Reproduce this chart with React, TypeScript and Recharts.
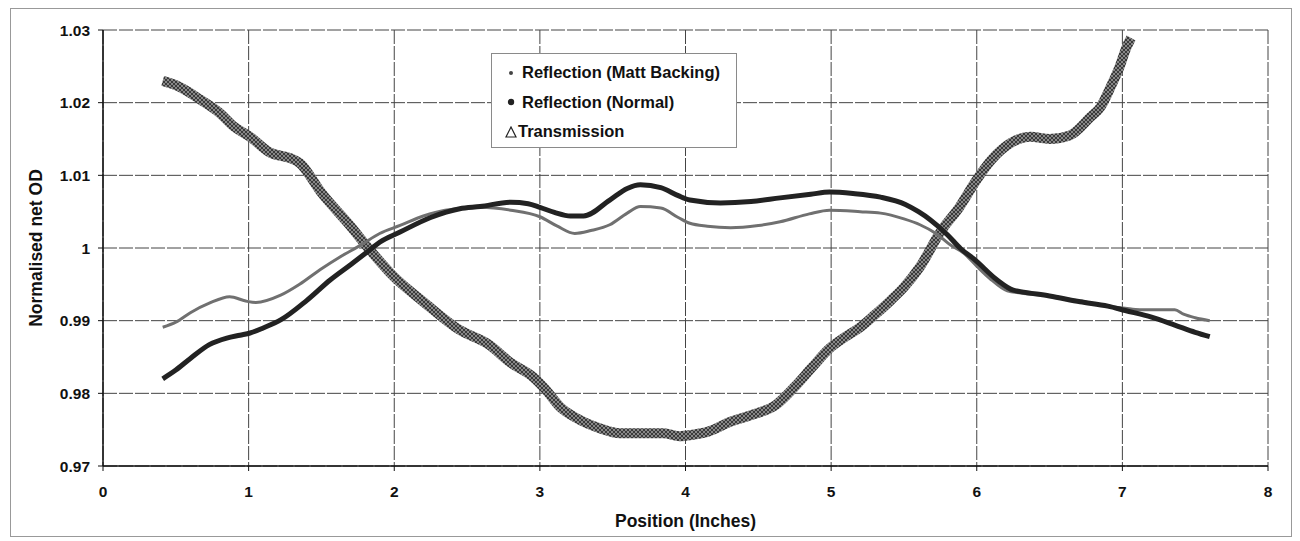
import { LineChart, Line, XAxis, YAxis, CartesianGrid } from 'recharts';

const xTicks = [0, 1, 2, 3, 4, 5, 6, 7, 8];
const yTicks = [0.97, 0.98, 0.99, 1.0, 1.01, 1.02, 1.03];
const yTickLabels = ['0.97', '0.98', '0.99', '1', '1.01', '1.02', '1.03'];

const mattX = [0.41, 0.5, 0.6, 0.73, 0.87, 0.98, 1.05, 1.22, 1.35, 1.49, 1.63, 1.77, 1.9, 2.04, 2.2, 2.35, 2.59, 2.8, 3.0, 3.12, 3.24, 3.35, 3.48, 3.6, 3.69, 3.83, 3.95, 4.03, 4.15, 4.31, 4.5, 4.65, 4.85, 4.99, 5.2, 5.34, 5.5, 5.61, 5.72, 5.82, 5.91, 6.0, 6.09, 6.21, 6.3, 6.5, 6.71, 6.9, 7.02, 7.12, 7.36, 7.42, 7.5, 7.6];
const mattY = [0.9891, 0.9898, 0.9911, 0.9924, 0.9933, 0.9927, 0.9925, 0.9935, 0.995, 0.997, 0.9988, 1.0004, 1.002, 1.0031, 1.0044, 1.0052, 1.0056, 1.0052, 1.0043, 1.003, 1.002, 1.0024, 1.0032, 1.0048, 1.0057, 1.0055, 1.0042, 1.0034, 1.003, 1.0028, 1.0031, 1.0036, 1.0047, 1.0052, 1.005, 1.0048, 1.004, 1.0032, 1.002, 1.0004, 0.9993, 0.9975, 0.9958, 0.9941, 0.9938, 0.9934, 0.9927, 0.992, 0.9917, 0.9915, 0.9915, 0.9909, 0.9904, 0.99];

const normalX = [0.41, 0.5, 0.6, 0.73, 0.85, 0.94, 1.01, 1.1, 1.22, 1.4, 1.56, 1.7, 1.83, 1.9, 2.04, 2.25, 2.45, 2.59, 2.8, 2.92, 3.0, 3.1, 3.21, 3.3, 3.48, 3.6, 3.69, 3.83, 3.95, 4.03, 4.24, 4.45, 4.65, 4.86, 4.99, 5.15, 5.34, 5.51, 5.6, 5.68, 5.8, 5.89, 5.98, 6.14, 6.25, 6.3, 6.5, 6.71, 6.9, 7.02, 7.2, 7.36, 7.5, 7.6];
const normalY = [0.982, 0.9832, 0.9848, 0.9867, 0.9876, 0.988, 0.9883, 0.989, 0.9901, 0.9928, 0.9956, 0.9977, 0.9997, 1.0008, 1.0022, 1.0042, 1.0054, 1.0057, 1.0063, 1.0061, 1.0056, 1.0049, 1.0044, 1.0044, 1.0066, 1.0082, 1.0087, 1.0083, 1.0072, 1.0066, 1.0062, 1.0064, 1.0069, 1.0074, 1.0077, 1.0075, 1.007, 1.006, 1.005, 1.0039, 1.0018, 0.9999, 0.9985, 0.9956, 0.9942, 0.994, 0.9934, 0.9926, 0.992, 0.9914, 0.9905, 0.9894, 0.9884, 0.9878];

const transX = [0.41, 0.5, 0.67, 0.8, 0.9, 1.01, 1.15, 1.28, 1.35, 1.5, 1.7, 1.83, 2.0, 2.2, 2.45, 2.65, 2.8, 2.95, 3.04, 3.14, 3.25, 3.41, 3.55, 3.69, 3.85, 3.96, 4.05, 4.15, 4.31, 4.45, 4.62, 4.75, 4.87, 4.99, 5.1, 5.2, 5.3, 5.41, 5.5, 5.61, 5.75, 5.88, 6.0, 6.1, 6.23, 6.37, 6.5, 6.64, 6.78, 6.85, 6.92, 6.98, 7.03, 7.06];
const transY = [1.023, 1.0224, 1.0204, 1.0186, 1.0167, 1.0153, 1.0131, 1.0124, 1.0117, 1.0076, 1.003, 0.9998, 0.996, 0.9926, 0.9887, 0.9867, 0.9842, 0.9823, 0.9805, 0.9781, 0.9766, 0.9752, 0.9745, 0.9745, 0.9745, 0.9741, 0.9743, 0.9747, 0.9761, 0.977, 0.9784, 0.9809, 0.9836, 0.9862, 0.9878, 0.9891, 0.9908, 0.9928, 0.9946, 0.9974, 1.0022, 1.0056, 1.0094, 1.0121, 1.0144, 1.0153, 1.015, 1.0155, 1.018, 1.0194, 1.0222, 1.0249, 1.0277, 1.0289];

const toPoints = (xs: number[], ys: number[]) => xs.map((x, i) => ({ x, y: ys[i] }));

const mattData = toPoints(mattX, mattY);
const normalData = toPoints(normalX, normalY);
const transData = toPoints(transX, transY);

const FONT = '"Liberation Sans", Arial, sans-serif';

const rowStyle = { height: 29.5, display: 'flex', alignItems: 'center' } as const;

const LegendBox = () => (
  <div
    style={{
      position: 'absolute',
      left: 491,
      top: 53,
      border: '1px solid #8a8a8a',
      background: '#fff',
      width: 246,
      height: 95,
      boxSizing: 'border-box',
      padding: '4px 0 0 14px',
      fontFamily: FONT,
      fontWeight: 'bold',
      fontSize: 16.5,
      color: '#111',
      whiteSpace: 'nowrap',
    }}
  >
    <div style={rowStyle}>
      <svg width={10} height={10} style={{ marginRight: 6 }}>
        <circle cx={5} cy={5} r={2} fill="#444" />
      </svg>
      Reflection (Matt Backing)
    </div>
    <div style={rowStyle}>
      <svg width={10} height={10} style={{ marginRight: 6 }}>
        <circle cx={5} cy={5} r={3.2} fill="#222" />
      </svg>
      Reflection (Normal)
    </div>
    <div style={rowStyle}>
      <svg width={12} height={12} style={{ marginLeft: -1, marginRight: 1 }}>
        <polygon points="6,1 11,11 1,11" fill="none" stroke="#222" strokeWidth={1.2} />
      </svg>
      Transmission
    </div>
  </div>
);

export default function App() {
  return (
    <div style={{ position: 'absolute', left: 0, top: 0, width: 1300, height: 541, background: '#fff' }}>
      <div
        style={{
          position: 'absolute',
          left: 10,
          top: 8,
          width: 1282,
          height: 529,
          border: '1px solid #999',
          boxSizing: 'border-box',
        }}
      />
      <LineChart
        width={1300}
        height={541}
        margin={{ top: 30, right: 32, bottom: 10, left: 0 }}
        style={{ position: 'absolute', left: 0, top: 0 }}
      >
        <defs>
          <pattern id="hatch" patternUnits="userSpaceOnUse" width={4} height={4}>
            <rect width={4} height={4} fill="#3a3a3a" />
            <path d="M0,4 L4,0 M0,0 L4,4" stroke="#bdbdbd" strokeWidth={0.6} />
          </pattern>
        </defs>
        <CartesianGrid stroke="#444" strokeDasharray="14 2" strokeWidth={1} />
        <XAxis
          type="number"
          dataKey="x"
          domain={[0, 8]}
          ticks={xTicks}
          height={65}
          tickSize={5}
          tickMargin={15}
          axisLine={{ stroke: '#111', strokeWidth: 1.5 }}
          tickLine={{ stroke: '#111' }}
          tick={{ fill: '#111', fontFamily: FONT, fontWeight: 'bold', fontSize: 15.5 }}
          label={{
            value: 'Position (Inches)',
            position: 'insideBottom',
            offset: 4,
            style: { fill: '#111', fontFamily: FONT, fontWeight: 'bold', fontSize: 17.5 },
          }}
        />
        <YAxis
          type="number"
          domain={[0.97, 1.03]}
          ticks={yTicks}
          width={103}
          tickSize={5}
          tickMargin={8}
          tickFormatter={(v: number) => yTickLabels[yTicks.findIndex((t) => Math.abs(t - v) < 1e-6)] ?? String(v)}
          axisLine={{ stroke: '#111', strokeWidth: 1.5 }}
          tickLine={{ stroke: '#111' }}
          tick={{ fill: '#111', fontFamily: FONT, fontWeight: 'bold', fontSize: 15.5 }}
          label={{
            value: 'Normalised net OD',
            angle: -90,
            position: 'insideLeft',
            offset: 36,
            style: { textAnchor: 'middle', fill: '#111', fontFamily: FONT, fontWeight: 'bold', fontSize: 17.5 },
          }}
        />
        <Line
          data={transData}
          dataKey="y"
          type="monotone"
          stroke="url(#hatch)"
          strokeWidth={10}
          dot={false}
          isAnimationActive={false}
        />
        <Line
          data={mattData}
          dataKey="y"
          type="monotone"
          stroke="#707070"
          strokeWidth={3}
          dot={false}
          isAnimationActive={false}
        />
        <Line
          data={normalData}
          dataKey="y"
          type="monotone"
          stroke="#222"
          strokeWidth={5}
          dot={false}
          isAnimationActive={false}
        />
      </LineChart>
      <LegendBox />
    </div>
  );
}
